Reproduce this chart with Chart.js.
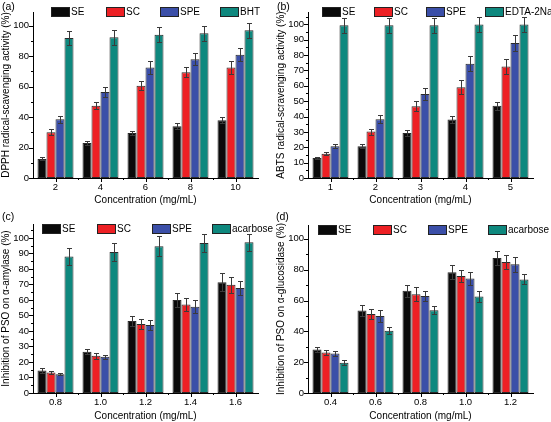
<!DOCTYPE html>
<html>
<head>
<meta charset="utf-8">
<script src="https://cdn.jsdelivr.net/npm/chart.js@4.4.0/dist/chart.umd.min.js"></script>
<style>
html, body { margin: 0; padding: 0; background: #fff; }
#wrap { position: relative; width: 551px; height: 422px; overflow: hidden; }
.panel { position: absolute; }
.tag { position: absolute; font: 10.5px "Liberation Sans", Arial, sans-serif; color: #000; }
</style>
</head>
<body>
<div id="wrap">
  <div class="panel" style="left:0;top:0;width:275px;height:211px"><canvas id="chartA"></canvas></div>
  <div class="panel" style="left:275px;top:0;width:276px;height:211px"><canvas id="chartB"></canvas></div>
  <div class="panel" style="left:0;top:211px;width:275px;height:211px"><canvas id="chartC"></canvas></div>
  <div class="panel" style="left:275px;top:211px;width:276px;height:211px"><canvas id="chartD"></canvas></div>
  <div class="tag" style="left:2px;top:0px">(a)</div>
  <div class="tag" style="left:277px;top:0px">(b)</div>
  <div class="tag" style="left:2px;top:210px">(c)</div>
  <div class="tag" style="left:276px;top:210px">(d)</div>
</div>
<script>
// (a) DPPH
const concA = ['2', '4', '6', '8', '10'];
const dpphSE = [12.5, 23, 29.5, 34, 38];
const dpphSC = [30, 47.5, 60.5, 69.5, 72.5];
const dpphSPE = [38.5, 56.5, 72.5, 78, 81];
const dpphBHT = [92, 92.5, 94, 95, 97];
const dpphSEerr = [1, 1.3, 1.5, 2, 2];
const dpphSCerr = [2, 2.5, 3, 3.5, 4];
const dpphSPEerr = [2.5, 3, 4, 4, 4.5];
const dpphBHTerr = [4.5, 5, 5, 5, 5];

// (b) ABTS
const concB = ['1', '2', '3', '4', '5'];
const abtsSE = [13, 20.7, 29.3, 38, 47];
const abtsSC = [15.7, 30.2, 46.7, 59.1, 72.6];
const abtsSPE = [20.7, 38.3, 54.6, 74.3, 87.8];
const abtsEDTA = [99.3, 99.3, 99.3, 99.8, 99.8];
const abtsSEerr = [0.6, 1.3, 1.7, 2.2, 2.5];
const abtsSCerr = [1, 2, 3.3, 4.5, 4.7];
const abtsSPEerr = [1.5, 2.5, 3.8, 5, 5];
const abtsEDTAerr = [5, 5, 5, 5, 5];

// (c) alpha-amylase
const concC = ['0.8', '1.0', '1.2', '1.4', '1.6'];
const amySE = [14.5, 26.6, 46.4, 60, 71.5];
const amySC = [13.2, 24, 44.5, 57, 69.8];
const amySPE = [12.1, 23.3, 43.8, 55.7, 67.8];
const amyAcarbose = [88, 91, 94.6, 96.8, 97.2];
const amySEerr = [1.5, 1.5, 3.5, 4.5, 6];
const amySCerr = [1.2, 2, 3, 4, 5];
const amySPEerr = [0.8, 1.5, 3, 4, 4.5];
const amyAcarboseErr = [5.5, 6, 6.5, 6, 5.5];

// (d) alpha-glucosidase
const concD = ['0.4', '0.6', '0.8', '1.0', '1.2'];
const gluSE = [28.3, 53.5, 66.3, 78.3, 87.6];
const gluSC = [26.3, 51.3, 64.1, 75.9, 85];
const gluSPE = [25.7, 50, 63, 74.3, 83.5];
const gluAcarbose = [19.6, 40.4, 53.7, 62.6, 73.7];
const gluSEerr = [1.7, 3.5, 4, 4.5, 4.7];
const gluSCerr = [1.8, 3.5, 4.5, 4.2, 4.5];
const gluSPEerr = [1.7, 4, 3.5, 4.5, 4.7];
const gluAcarboseErr = [1.5, 2.3, 2.7, 3.3, 3.2];

const seriesColors = ['#0a0a0a', '#ed2024', '#3b4fa8', '#0e887e'];
const FAMILY = '"Liberation Sans", Arial, sans-serif';

// barras de erro
const errorBars = {
  id: 'errorBars',
  afterDatasetsDraw(chart) {
    const ctx = chart.ctx, y = chart.scales.y;
    ctx.save();
    ctx.strokeStyle = '#3a3a3a';
    ctx.lineWidth = 1;
    chart.data.datasets.forEach((ds, i) => {
      chart.getDatasetMeta(i).data.forEach((bar, j) => {
        const v = ds.data[j], e = ds.errors[j];
        const x = Math.round(bar.x) + 0.5;
        const top = Math.round(y.getPixelForValue(v + e)) + 0.5;
        const bot = Math.round(y.getPixelForValue(v - e)) + 0.5;
        ctx.beginPath();
        ctx.moveTo(x, top); ctx.lineTo(x, bot);
        ctx.moveTo(x - 2.5, top); ctx.lineTo(x + 2.5, top);
        ctx.moveTo(x - 2.5, bot); ctx.lineTo(x + 2.5, bot);
        ctx.stroke();
      });
    });
    ctx.restore();
  }
};

// ticks maiores e menores
const axisTicks = {
  id: 'axisTicks',
  afterDraw(chart, args, opts) {
    const { ctx, chartArea: a, scales: { x, y } } = chart;
    ctx.save();
    ctx.strokeStyle = '#000';
    ctx.lineWidth = 1;
    ctx.beginPath();
    for (let v = 0; v <= y.max; v += opts.minor) {
      const py = Math.round(y.getPixelForValue(v)) + 0.5;
      const len = v % opts.major === 0 ? 4 : 2;
      ctx.moveTo(a.left - len, py); ctx.lineTo(a.left, py);
    }
    const n = x.getLabels().length;
    for (let i = 0; i < n; i++) {
      const px = Math.round(x.getPixelForValue(i)) + 0.5;
      ctx.moveTo(px, a.bottom); ctx.lineTo(px, a.bottom + 4);
      if (i < n - 1) {
        const pm = Math.round(x.getPixelForValue(i + 0.5)) + 0.5;
        ctx.moveTo(pm, a.bottom); ctx.lineTo(pm, a.bottom + 2);
      }
    }
    ctx.stroke();
    ctx.restore();
  }
};

// legenda em caixas no topo
const boxLegend = {
  id: 'boxLegend',
  afterDraw(chart, args, opts) {
    const ctx = chart.ctx;
    ctx.save();
    ctx.font = '10px ' + FAMILY;
    ctx.textBaseline = 'middle';
    chart.data.datasets.forEach((ds, i) => {
      const bx = opts.x[i], by = Math.round(opts.y - 5);
      ctx.fillStyle = ds.backgroundColor;
      ctx.fillRect(bx, by, 19, 10);
      ctx.strokeStyle = '#222';
      ctx.strokeRect(bx + 0.5, by + 0.5, 18, 9);
      ctx.fillStyle = '#000';
      ctx.fillText(ds.label, bx + 20, opts.y + 0.5);
    });
    ctx.restore();
  }
};

function makePanel(id, cfg) {
  const datasets = cfg.series.map((s, i) => ({
    label: s.label,
    data: s.data,
    errors: s.err,
    backgroundColor: seriesColors[i],
    borderColor: '#2a2a2a',
    borderWidth: 1,
    borderSkipped: false,
    categoryPercentage: 0.8,
    barPercentage: 1.0
  }));
  new Chart(document.getElementById(id).getContext('2d'), {
    type: 'bar',
    data: { labels: cfg.labels, datasets: datasets },
    options: {
      responsive: true,
      maintainAspectRatio: false,
      animation: false,
      layout: { padding: cfg.padding },
      plugins: {
        legend: { display: false },
        tooltip: { enabled: false },
        axisTicks: { major: cfg.major, minor: cfg.minor },
        boxLegend: { x: cfg.legendX, y: cfg.legendY }
      },
      scales: {
        x: {
          offset: true,
          grid: { display: false, drawTicks: false },
          border: { display: true, color: '#000', width: 1 },
          ticks: { color: '#000', font: { family: FAMILY, size: 9.5 }, padding: 4, maxRotation: 0, autoSkip: false },
          title: { display: true, text: 'Concentration (mg/mL)', color: '#000', font: { family: FAMILY, size: 10 }, padding: 0 },
          afterFit: s => { s.height = cfg.xHeight; }
        },
        y: {
          min: 0,
          max: cfg.max,
          grid: { display: false, drawTicks: false },
          border: { display: true, color: '#000', width: 1 },
          ticks: { stepSize: cfg.major, color: '#000', font: { family: FAMILY, size: 9.5 }, padding: 4,
                   callback: v => (v <= 100) ? v : '' },
          title: { display: true, text: cfg.yTitle, color: '#000', font: { family: FAMILY, size: 10 }, padding: 0 },
          afterFit: s => { s.width = 33; }
        }
      }
    },
    plugins: [errorBars, axisTicks, boxLegend]
  });
}

document.addEventListener('DOMContentLoaded', function () {
  makePanel('chartA', {
    labels: concA, max: 109, major: 20, minor: 10,
    yTitle: 'DPPH radical-scavenging activity (%)',
    padding: { left: 0, right: 17, top: 12, bottom: 5 }, xHeight: 28,
    legendX: [51, 106, 160, 220], legendY: 12,
    series: [
      { label: 'SE', data: dpphSE, err: dpphSEerr },
      { label: 'SC', data: dpphSC, err: dpphSCerr },
      { label: 'SPE', data: dpphSPE, err: dpphSPEerr },
      { label: 'BHT', data: dpphBHT, err: dpphBHTerr }
    ]
  });
  makePanel('chartB', {
    labels: concB, max: 108, major: 10, minor: 5,
    yTitle: 'ABTS radical-scravenging activity (%)',
    padding: { left: 0, right: 18, top: 12, bottom: 5 }, xHeight: 28,
    legendX: [47, 99, 151, 210], legendY: 11.5,
    series: [
      { label: 'SE', data: abtsSE, err: abtsSEerr },
      { label: 'SC', data: abtsSC, err: abtsSCerr },
      { label: 'SPE', data: abtsSPE, err: abtsSPEerr },
      { label: 'EDTA-2Na', data: abtsEDTA, err: abtsEDTAerr }
    ]
  });
  makePanel('chartC', {
    labels: concC, max: 109, major: 10, minor: 5,
    yTitle: 'Inhibition of PSO on \u03b1-amylase (%)',
    padding: { left: 0, right: 17, top: 13, bottom: 0 }, xHeight: 29,
    legendX: [42, 97, 152, 212], legendY: 18,
    series: [
      { label: 'SE', data: amySE, err: amySEerr },
      { label: 'SC', data: amySC, err: amySCerr },
      { label: 'SPE', data: amySPE, err: amySPEerr },
      { label: 'acarbose', data: amyAcarbose, err: amyAcarboseErr }
    ]
  });
  makePanel('chartD', {
    labels: concD, max: 109, major: 20, minor: 10,
    yTitle: 'Inhibition of PSO on \u03b1-glucosidase (%)',
    padding: { left: 0, right: 18, top: 14, bottom: 0 }, xHeight: 29,
    legendX: [43, 98, 153, 213], legendY: 18.5,
    series: [
      { label: 'SE', data: gluSE, err: gluSEerr },
      { label: 'SC', data: gluSC, err: gluSCerr },
      { label: 'SPE', data: gluSPE, err: gluSPEerr },
      { label: 'acarbose', data: gluAcarbose, err: gluAcarboseErr }
    ]
  });
});
</script>
</body>
</html>
